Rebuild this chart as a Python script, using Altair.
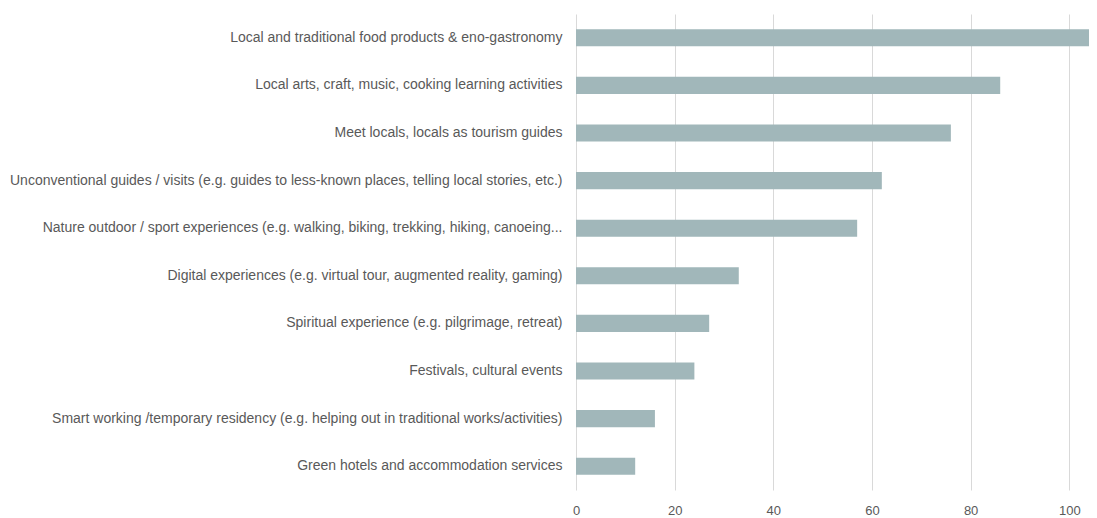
import altair as alt
import pandas as pd

categories = [
    "Local and traditional food products & eno-gastronomy",
    "Local arts, craft, music, cooking learning activities",
    "Meet locals, locals as tourism guides",
    "Unconventional guides / visits (e.g. guides to less-known places, telling local stories, etc.)",
    "Nature outdoor / sport experiences (e.g. walking, biking, trekking, hiking, canoeing...",
    "Digital experiences (e.g. virtual tour, augmented reality, gaming)",
    "Spiritual experience (e.g. pilgrimage, retreat) ",
    "Festivals, cultural events",
    "Smart working /temporary residency (e.g. helping out in traditional works/activities)",
    "Green hotels and accommodation services",
]
values = [108, 86, 76, 62, 57, 33, 27, 24, 16, 12]
x_ticks = [0, 20, 40, 60, 80, 100]

df = pd.DataFrame({"category": categories, "value": values})

chart = (
    alt.Chart(df)
    .mark_bar(color="#a1b7ba", clip=True)
    .encode(
        x=alt.X(
            "value:Q",
            scale=alt.Scale(domain=[0, 104], nice=False, zero=True),
            axis=alt.Axis(
                values=x_ticks,
                title=None,
                domain=False,
                ticks=False,
                grid=True,
                gridColor="#d9d9d9",
                gridWidth=1,
                labelColor="#595959",
                labelFont="Liberation Sans",
                labelFontSize=13,
                labelPadding=14,
                labelFlush=False,
            ),
        ),
        y=alt.Y(
            "category:N",
            sort=categories,
            scale=alt.Scale(paddingInner=0.64, paddingOuter=0.32),
            axis=alt.Axis(
                title=None,
                domain=False,
                ticks=False,
                labelColor="#595959",
                labelFont="Liberation Sans",
                labelFontSize=14,
                labelPadding=14,
                labelLimit=800,
            ),
        ),
    )
    .properties(
        width=513,
        height=476,
        autosize=alt.AutoSizeParams(type="none"),
        padding={"left": 568, "top": 6, "right": 0, "bottom": 30},
    )
    .configure_view(stroke=None)
)

chart.save("out.html", embed_options={"renderer": "svg", "actions": False})
